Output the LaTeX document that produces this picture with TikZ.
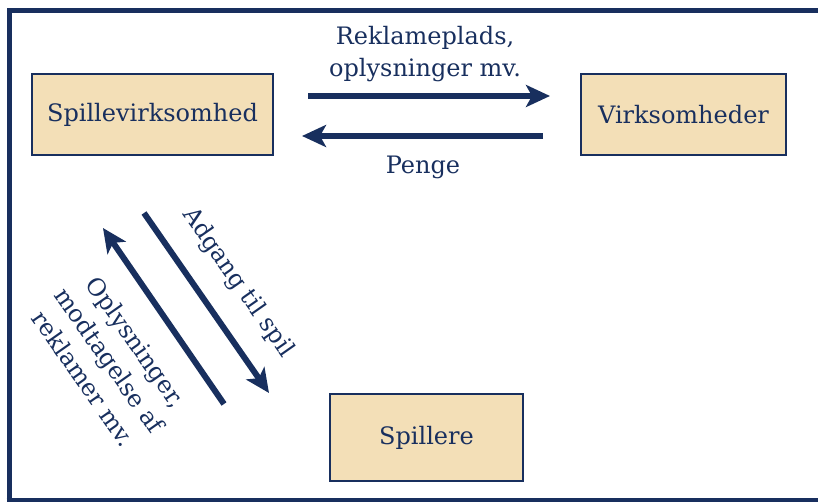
\documentclass[tikz,border=0pt]{standalone}
\usepackage{fontspec}
\setmainfont{DejaVu Serif}
\usetikzlibrary{arrows.meta}
\definecolor{navy}{RGB}{24,47,94}
\definecolor{sand}{RGB}{243,223,183}

\begin{document}
\begin{tikzpicture}[x=1pt,y=-1pt]
        % Define styles
        \tikzset{
            party/.style={rectangle, draw=navy, line width=1.6pt, fill=sand, text=navy, inner sep=0pt, font=\fontsize{24}{28}\selectfont},
            flowtext/.style={text=navy, align=center, inner sep=0pt, font=\fontsize{24}{32}\selectfont},
            flow/.style={-{Stealth[length=24pt,width=22pt,inset=6pt]}, draw=navy, line width=6pt},
            frame/.style={draw=navy, line width=5pt}
        }
        \useasboundingbox (0,0) rectangle (818,502);

        % Frame
        \draw[frame] (9,502) -- (9,10.5) -- (818,10.5);
        \draw[frame] (6.5,500.5) -- (818,500.5);

        % Nodes
        \node[party, minimum width=241pt, minimum height=81pt] (operator) at (152.5,114.5) {Spillevirksomhed};
        \node[party, minimum width=205pt, minimum height=81pt] (companies) at (683.5,114.5) {Virksomheder};
        \node[party, minimum width=193pt, minimum height=87pt] (players) at (426.5,437.5) {Spillere};

        % Arrow ends
        \coordinate (adsA) at (308,96);
        \coordinate (adsB) at (550,96);
        \coordinate (moneyA) at (543,136);
        \coordinate (moneyB) at (302,136);
        \coordinate (accessA) at (144,213);
        \coordinate (accessB) at (269,393);
        \coordinate (infoA) at (224,404);
        \coordinate (infoB) at (103,228);

        % Arrows
        \draw[flow] (adsA) -- (adsB);
        \draw[flow] (moneyA) -- (moneyB);
        \draw[flow] (accessA) -- (accessB);
        \draw[flow] (infoA) -- (infoB);

        % Labels
        \node[flowtext] (adslabel) at (425,54) {Reklameplads,\\oplysninger mv.};
        \node[flowtext] (moneylabel) at (423,167) {Penge};
        \node[flowtext, rotate=-55] (accesslabel) at (238,283) {Adgang til spil};
        \node[flowtext, rotate=-55] (infolabel) at (110,360) {Oplysninger,\\modtagelse af\\reklamer mv.};
\end{tikzpicture}
\end{document}
